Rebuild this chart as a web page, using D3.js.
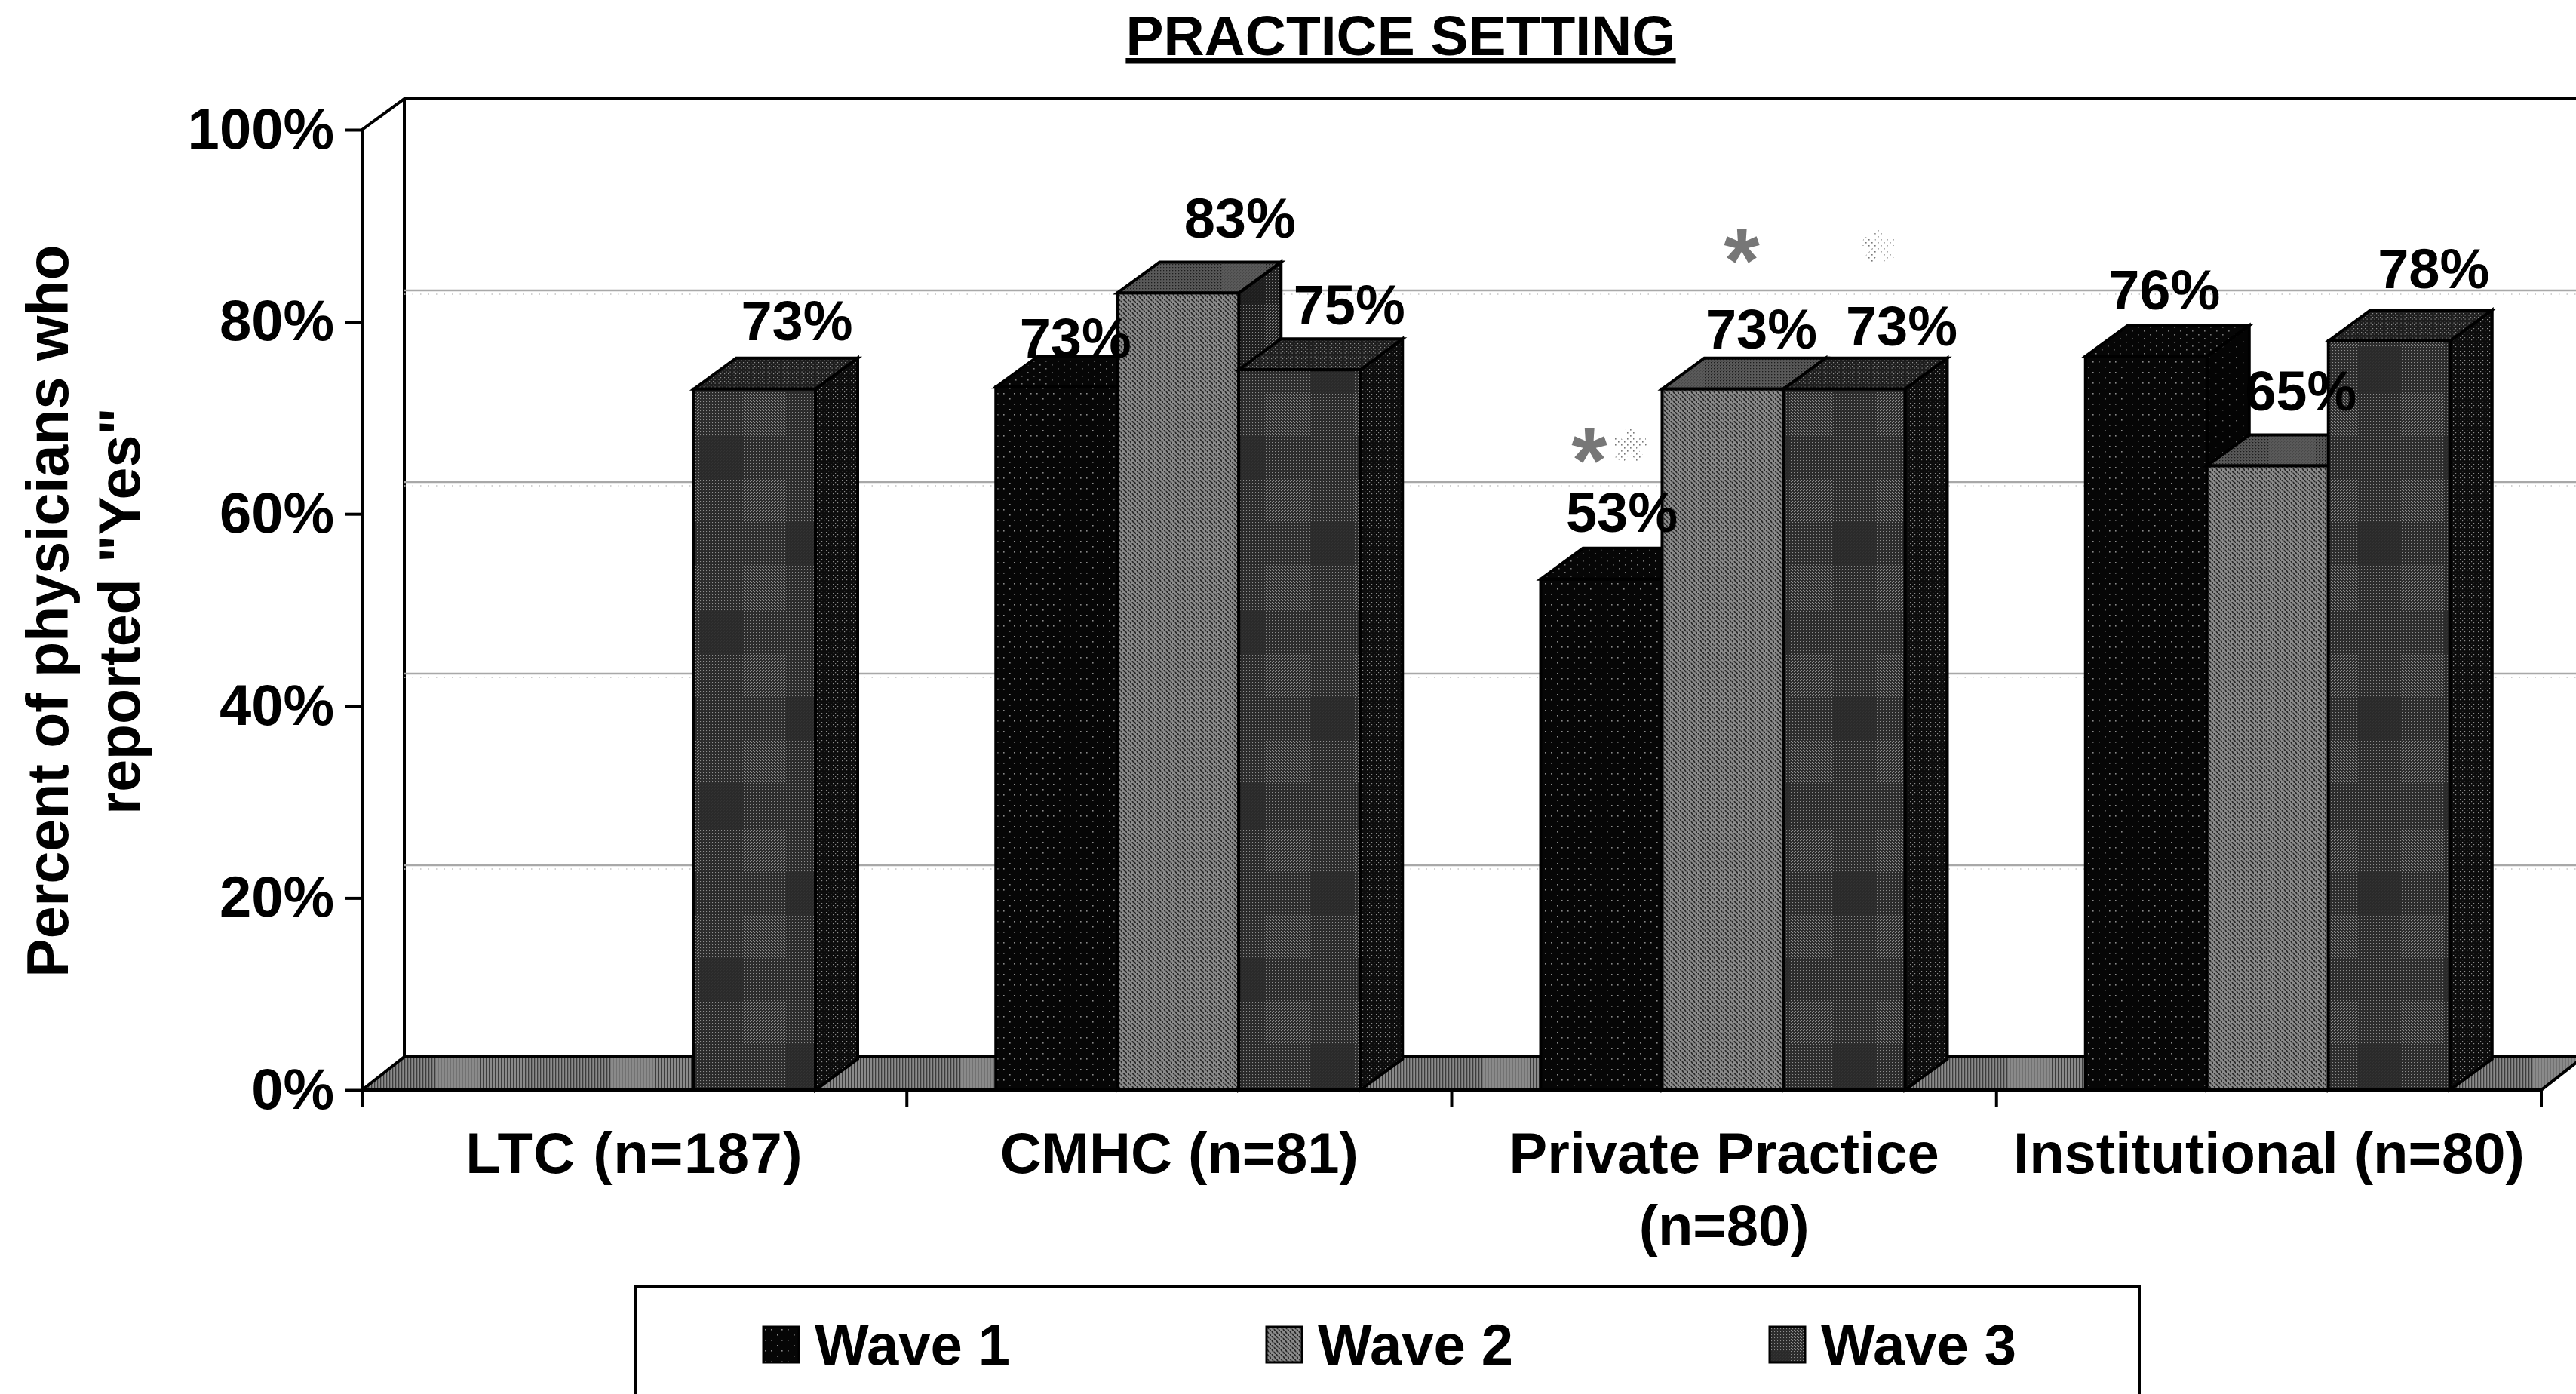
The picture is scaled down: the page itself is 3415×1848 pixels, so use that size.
<!DOCTYPE html>
<html><head><meta charset="utf-8">
<script src="https://cdn.jsdelivr.net/npm/d3@7"></script>
<style>html,body{margin:0;padding:0;background:#fff;overflow:hidden}
text{font-family:"Liberation Sans",Arial,sans-serif;font-weight:700;fill:#000}</style>
</head><body><div id="chart"></div>
<script>
// ---- data ----
const categories = ["LTC (n=187)", "CMHC (n=81)", "Private Practice (n=80)", "Institutional (n=80)"];
const seriesNames = ["Wave 1", "Wave 2", "Wave 3"];
const wave1 = [null, 73, 53, 76];
const wave2 = [null, 83, 73, 65];
const wave3 = [73, 75, 73, 78];
const yTicks = [0, 20, 40, 60, 80, 100];
const chartTitle = "PRACTICE SETTING";
const yTitle = ["Percent of physicians who", 'reported "Yes"'];
// significance stars: category index, series index
const stars = [[2, 0], [2, 1], [2, 2], [2, 0]];

// ---- layout ----
const W = 3415, H = 1848, FS = 74;
const depthX = 56, depthY = 41;
const x0 = 480, x1 = 3369, base = 1445, top100 = 172;
// hand-placed label offsets in the reference (series -> category), [dx, dy] from bar centre/top
const labelNudge = [
  [null, [25, -42], [27, -65], [24, -68]],
  [null, [82, -73], [51, -54], [44, -74]],
  [[56, -65], [66, -60], [76, -58], [59, -70]]
];
const barTopAdjust = [[0, .2, .2, .4], [0, 0, 0, 0], [0, 0, 0, 0]];
const starPlacement = [
  {x: 2107, y: 584, fill: "#777"}, {x: 2309, y: 319, fill: "#777"},
  {x: 2491, y: 319, fill: "url(#faint)"}, {x: 2161, y: 584, fill: "url(#faint)"}
];
const faces = [
  {front: "w1f", top: "w1t", side: "w1s", sw: "w1f"},
  {front: "w2f", top: "w2t", side: "w2s", sw: "w2f"},
  {front: "w3f", top: "w3t", side: "w3s", sw: "w3f"}
];

const series = [wave1, wave2, wave3];
const y = d3.scaleLinear().domain([0, 100]).range([base, top100]);
const yBack = d3.scaleLinear().domain([0, 100]).range([base - depthY - 3, top100 - depthY]);
const x = d3.scaleBand().domain(categories).range([x0, x1]);
const xInner = d3.scaleBand().domain(seriesNames).range([118, 601]);

const svg = d3.select("#chart").append("svg").attr("width", W).attr("height", H).style("display", "block");

// ---- stipple patterns ----
const defs = svg.append("defs");
function pat(id, w, h, bg, draw) {
  const p = defs.append("pattern").attr("id", id).attr("width", w).attr("height", h).attr("patternUnits", "userSpaceOnUse");
  p.append("rect").attr("width", w).attr("height", h).attr("fill", bg);
  draw(p);
}
const dots = (list, c, s) => p => list.forEach(d => p.append("rect").attr("x", d[0]).attr("y", d[1]).attr("width", s).attr("height", s).attr("fill", c));
pat("w1f", 22, 14, "#060606", dots([[2, 3], [10, 3], [18, 10]], "#8a8a8a", 1.6));
pat("w1t", 16, 10, "#060606", dots([[2, 3], [10, 8]], "#777", 1.6));
pat("w1s", 18, 14, "#040404", dots([[3, 4], [12, 11]], "#666", 1.4));
pat("w2f", 6, 6, "#8c8c8c", p => p.append("path").attr("d", "M1 0L3 3M4 3L6 6").attr("stroke", "#262626").attr("stroke-width", 1.7));
pat("w2t", 4, 4, "#5a5a5a", dots([[0, 0], [2, 2]], "#1c1c1c", 1.3));
pat("w2s", 4, 4, "#1e1e1e", dots([[0, 0], [2, 2]], "#8a8a8a", 1.1));
pat("w3f", 4, 4, "#2a2a2a", dots([[0, 0], [2, 2]], "#8e8e8e", 1.1));
pat("w3t", 5, 5, "#1e1e1e", dots([[0, 0], [2.5, 2.5]], "#8e8e8e", 1.2));
pat("w3s", 6, 6, "#0c0c0c", dots([[0, 0], [3, 3]], "#8a8a8a", 1.2));
pat("floor", 4, 3, "#8a8a8a", p => p.append("rect").attr("width", 1.3).attr("height", 3).attr("fill", "#3c3c3c"));
pat("faint", 8, 8, "#fff", dots([[1, 1], [5, 5]], "#777", 1.6));

// ---- walls, gridlines, floor ----
const walls = svg.append("g").attr("fill", "none").attr("stroke", "#000").attr("stroke-width", 4);
const gridG = svg.append("g");
yTicks.filter(t => t > 0 && t < 100).forEach(t => {
  gridG.append("line").attr("x1", x0 + depthX).attr("x2", W).attr("y1", yBack(t)).attr("y2", yBack(t)).attr("stroke", "#a8a8a8").attr("stroke-width", 2.5);
  gridG.append("line").attr("x1", x0 + depthX).attr("x2", W).attr("y1", yBack(t) + 5).attr("y2", yBack(t) + 5).attr("stroke", "#c4c4c4").attr("stroke-width", 1.4).attr("stroke-dasharray", "1.5 9");
});
svg.append("path").attr("fill", "url(#floor)").attr("stroke", "#000").attr("stroke-width", 4)
  .attr("d", `M${x0},${base}L${x0 + depthX},${yBack(0)}L${x1 + depthX},${yBack(0)}L${x1},${base}Z`);
walls.append("path").attr("d", `M${x0},${base}V${y(100)}L${x0 + depthX},${yBack(100)}H${W}`);
walls.append("path").attr("d", `M${x0 + depthX},${yBack(100)}V${yBack(0)}`);

// ---- bars ----
const barG = svg.append("g");
const barX = (ci, si) => x(categories[ci]) + xInner(seriesNames[si]);
const barTop = (ci, si) => y(series[si][ci] + barTopAdjust[si][ci]);
series.forEach((vals, si) => {
  const bw = xInner.bandwidth(), f = faces[si];
  const g = barG.append("g").selectAll("g").data(vals.map((v, ci) => ({v, ci})).filter(d => d.v != null)).join("g")
    .attr("stroke", "#000").attr("stroke-width", 4).attr("stroke-linejoin", "miter");
  g.append("path").attr("fill", `url(#${f.side})`).attr("d", d => {
    const a = barX(d.ci, si) + bw, t = barTop(d.ci, si);
    return `M${a},${t}L${a + depthX},${t - depthY}V${base - depthY}L${a},${base}Z`;
  });
  g.append("path").attr("fill", `url(#${f.top})`).attr("d", d => {
    const a = barX(d.ci, si), t = barTop(d.ci, si);
    return `M${a},${t}L${a + depthX},${t - depthY}H${a + bw + depthX}L${a + bw},${t}Z`;
  });
  g.append("rect").attr("fill", `url(#${f.front})`).attr("x", d => barX(d.ci, si)).attr("y", d => barTop(d.ci, si))
    .attr("width", bw).attr("height", d => base - barTop(d.ci, si));
});

// ---- axes ----
const yAxis = d3.axisLeft(y).tickValues(yTicks).tickFormat(d => d + "%").tickSize(22).tickPadding(15);
const gy = svg.append("g").attr("transform", `translate(${x0},0)`).call(yAxis);
gy.select(".domain").remove();
gy.selectAll("line").attr("stroke", "#000").attr("stroke-width", 4);
gy.selectAll("text").style("font-size", "76px").attr("fill", "#000").style("font-family", '"Liberation Sans"');

const xAxis = d3.axisBottom(x).tickSize(0).tickPadding(0);
const gx = svg.append("g").attr("transform", `translate(0,${base})`).call(xAxis);
gx.select(".domain").attr("stroke", "#000").attr("stroke-width", 5);
gx.selectAll("text").style("font-size", "76px").style("font-family", '"Liberation Sans"').attr("fill", "#000").attr("dy", null).attr("y", 110)
  .style("letter-spacing", d => d.startsWith("LTC") ? "1.5px" : null)
  .each(function (d) {
    const t = d3.select(this);
    if (this.getComputedTextLength() > x.bandwidth()) {
      const i = d.lastIndexOf(" (");
      t.text(null);
      t.append("tspan").attr("x", 0).attr("y", 110).text(d.slice(0, i));
      t.append("tspan").attr("x", 0).attr("y", 206).text(d.slice(i + 1));
    }
  });
svg.append("g").selectAll("line").data([...categories.map(c => x(c)), x1]).join("line")
  .attr("x1", d => d).attr("x2", d => d).attr("y1", base).attr("y2", base + 22).attr("stroke", "#000").attr("stroke-width", 4);

// ---- value labels ----
series.forEach((vals, si) => {
  svg.append("g").selectAll("text").data(vals.map((v, ci) => ({v, ci})).filter(d => d.v != null)).join("text")
    .attr("text-anchor", "middle").style("font-size", FS + "px")
    .attr("x", d => barX(d.ci, si) + xInner.bandwidth() / 2 + labelNudge[si][d.ci][0])
    .attr("y", d => y(d.v) + labelNudge[si][d.ci][1])
    .text(d => d.v + "%");
});

// ---- stars ----
svg.append("g").selectAll("text").data(stars).join("text")
  .attr("text-anchor", "middle").style("font-size", "122px")
  .attr("x", (d, i) => starPlacement[i].x).attr("y", (d, i) => starPlacement[i].y + 68)
  .style("fill", (d, i) => starPlacement[i].fill).text("*");

// ---- title ----
svg.append("text").attr("x", 1857).attr("y", 73).attr("text-anchor", "middle").style("font-size", "75px")
  .style("text-decoration", "underline").text(chartTitle);

// ---- y title ----
const yt = svg.append("text").attr("text-anchor", "middle").attr("transform", "translate(0,810) rotate(-90)").style("font-size", "77px");
yTitle.forEach((s, i) => yt.append("tspan").attr("x", 0).attr("y", 90 + i * 95).text(s));

// ---- legend ----
svg.append("path").attr("fill", "none").attr("stroke", "#000").attr("stroke-width", 4)
  .attr("d", `M842,${H + 5}V1706H2836V${H + 5}`);
const legendX = d3.scalePoint().domain(seriesNames).range([1012, 2346]);
const lg = svg.append("g").selectAll("g").data(seriesNames).join("g").attr("transform", d => `translate(${legendX(d)},1759)`);
lg.append("rect").attr("width", 47).attr("height", 47).attr("stroke", "#000").attr("stroke-width", 3).attr("fill", (d, i) => `url(#${faces[i].sw})`);
lg.append("text").attr("x", 68).attr("y", 50).style("font-size", "76px").text(d => d);
</script></body></html>
